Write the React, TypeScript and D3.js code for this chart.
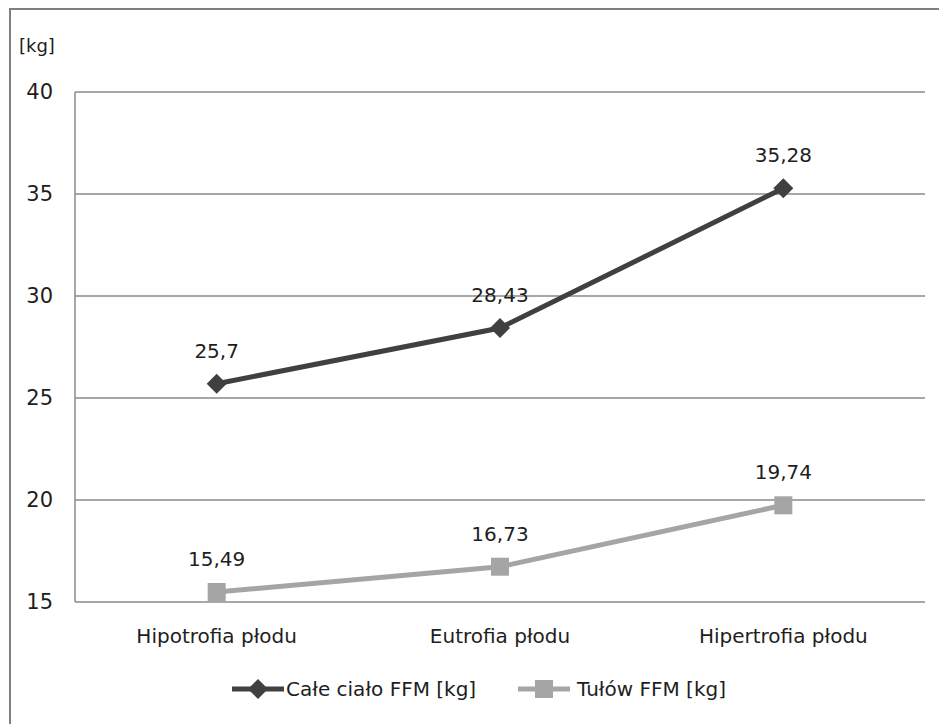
import React from 'react';
import * as d3 from 'd3';

const categories = ['Hipotrofia płodu', 'Eutrofia płodu', 'Hipertrofia płodu'];
const seriesNames = ['Całe ciało FFM [kg]', 'Tułów FFM [kg]'];
const wholeBody = [25.7, 28.43, 35.28];
const trunk = [15.49, 16.73, 19.74];
const yTicks = [15, 20, 25, 30, 35, 40];

const W = 939;
const H = 724;
const plot = { left: 75, right: 925, top: 92, bottom: 602 };
const FONT = '"DejaVu Sans", sans-serif';

const fmt = (v: number) => String(v).replace('.', ',');

export default function App() {
  const x = d3.scaleBand().domain(categories).range([plot.left, plot.right]);
  const y = d3.scaleLinear().domain([15, 40]).range([plot.bottom, plot.top]);
  const cx = (c: string) => (x(c) as number) + x.bandwidth() / 2;

  const line = d3.line<number>().x((_, i) => cx(categories[i])).y(d => y(d));

  const series = [
    { name: seriesNames[0], values: wholeBody, color: '#404040', marker: 'diamond' },
    { name: seriesNames[1], values: trunk, color: '#a5a5a5', marker: 'square' },
  ];

  const marker = (kind: string, px: number, py: number, color: string) =>
    kind === 'diamond'
      ? <path d={`M${px},${py - 10}L${px + 10},${py}L${px},${py + 10}L${px - 10},${py}Z`} fill={color} />
      : <rect x={px - 9} y={py - 9} width={18} height={18} fill={color} />;

  const legend = [
    { x: 232, text: 286 },
    { x: 518, text: 577 },
  ];

  return (
    <svg width={W} height={H} style={{ position: 'absolute', left: 0, top: 0, background: '#fff' }}>
      <rect x={10} y={9} width={W} height={H} fill="#fff" stroke="#7f7f7f" strokeWidth={2} />
      <text x={19} y={46} dy="0.35em" fontFamily={FONT} fontSize={18} fill="#1e1e1e">[kg]</text>
      {yTicks.map(t => (
        <g key={t}>
          <line x1={plot.left} x2={plot.right} y1={y(t)} y2={y(t)} stroke="#8a8a8a" strokeWidth={1.5} />
          <text x={53} y={y(t)} dy="0.35em" textAnchor="end" fontFamily={FONT} fontSize={21} fill="#1e1e1e">{t}</text>
        </g>
      ))}
      <line x1={plot.left} x2={plot.left} y1={plot.top} y2={plot.bottom} stroke="#8a8a8a" strokeWidth={1.5} />
      {categories.map(c => (
        <text key={c} x={cx(c)} y={636} dy="0.35em" textAnchor="middle" fontFamily={FONT} fontSize={20} fill="#1e1e1e">{c}</text>
      ))}
      {series.map(s => (
        <g key={s.name}>
          <path d={line(s.values) as string} fill="none" stroke={s.color} strokeWidth={5} />
          {s.values.map((v, i) => (
            <g key={i}>
              {marker(s.marker, cx(categories[i]), y(v), s.color)}
              <text x={cx(categories[i])} y={y(v) - 33} dy="0.35em" textAnchor="middle" fontFamily={FONT} fontSize={20} fill="#1e1e1e">{fmt(v)}</text>
            </g>
          ))}
        </g>
      ))}
      {series.map((s, i) => (
        <g key={s.name}>
          <line x1={legend[i].x} x2={legend[i].x + 52} y1={689} y2={689} stroke={s.color} strokeWidth={5} />
          {marker(s.marker, legend[i].x + 26, 689, s.color)}
          <text x={legend[i].text} y={689} dy="0.35em" fontFamily={FONT} fontSize={20} fill="#1e1e1e">{s.name}</text>
        </g>
      ))}
    </svg>
  );
}
